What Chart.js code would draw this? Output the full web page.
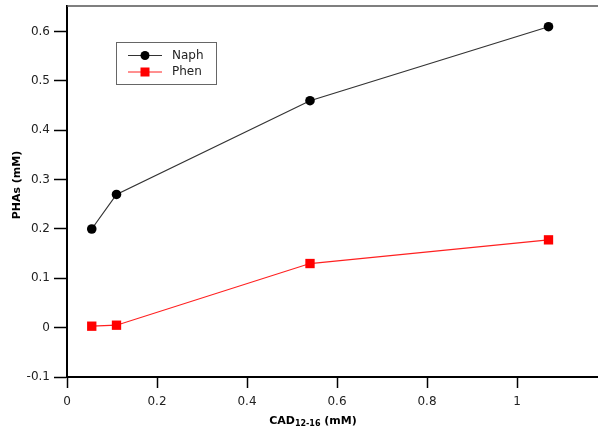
<!DOCTYPE html>
<html>
<head>
<meta charset="utf-8">
<script src="https://cdn.jsdelivr.net/npm/chart.js@4"></script>
<style>
  html, body { margin: 0; padding: 0; background: #fff; }
  #wrap { width: 598px; height: 431px; position: relative; }
</style>
</head>
<body>
<div id="wrap"><canvas id="phaChart"></canvas></div>
<script>
// values
const cadValues = [0.055, 0.11, 0.54, 1.07];
const naphValues = [0.2, 0.27, 0.46, 0.61];
const phenValues = [0.003, 0.005, 0.13, 0.178];

const xTicks = [0, 0.2, 0.4, 0.6, 0.8, 1];
const yTicks = [-0.1, 0, 0.1, 0.2, 0.3, 0.4, 0.5, 0.6];

const seriesNames = ['Naph', 'Phen'];

const toPoints = (xs, ys) => xs.map((x, i) => ({ x: x, y: ys[i] }));

const tickFont = { family: 'DejaVu Sans', size: 12 };
const textColor = '#222';

// top frame line, axis titles and the boxed legend
const extrasPlugin = {
    id: 'extras',
    afterDraw(chart) {
        const ctx = chart.ctx;
        const area = chart.chartArea;
        ctx.save();

        // thin frame on top
        ctx.strokeStyle = '#555';
        ctx.lineWidth = 1.5;
        ctx.beginPath();
        ctx.moveTo(area.left, area.top);
        ctx.lineTo(area.right, area.top);
        ctx.stroke();

        // y title
        ctx.fillStyle = '#000';
        ctx.font = 'bold 11px "DejaVu Sans"';
        ctx.textAlign = 'center';
        ctx.textBaseline = 'middle';
        ctx.translate(17, 185);
        ctx.rotate(-Math.PI / 2);
        ctx.fillText('PHAs (mM)', 0, 0);
        ctx.setTransform(1, 0, 0, 1, 0, 0);

        // x title with subscript
        const big = 'bold 11px "DejaVu Sans"';
        const small = 'bold 8px "DejaVu Sans"';
        ctx.textAlign = 'left';
        ctx.textBaseline = 'alphabetic';
        ctx.font = big;
        const w1 = ctx.measureText('CAD').width;
        const w3 = ctx.measureText(' (mM)').width;
        ctx.font = small;
        const w2 = ctx.measureText('12-16').width;
        let x = 313 - (w1 + w2 + w3) / 2;
        const base = 424;
        ctx.font = big;
        ctx.fillText('CAD', x, base);
        x += w1;
        ctx.font = small;
        ctx.fillText('12-16', x, base + 2);
        x += w2;
        ctx.font = big;
        ctx.fillText(' (mM)', x, base);

        // legend box
        ctx.strokeStyle = '#666';
        ctx.lineWidth = 1;
        ctx.strokeRect(116.5, 42.5, 100, 42);
        const rows = [55.5, 72];
        chart.data.datasets.forEach((ds, i) => {
            const y = rows[i];
            ctx.strokeStyle = ds.borderColor;
            ctx.lineWidth = 1;
            ctx.beginPath();
            ctx.moveTo(128, y);
            ctx.lineTo(162, y);
            ctx.stroke();
            ctx.fillStyle = ds.pointBackgroundColor;
            if (ds.pointStyle === 'rect') {
                ctx.fillRect(140.5, y - 4.5, 9, 9);
            } else {
                ctx.beginPath();
                ctx.arc(145, y, 4.5, 0, Math.PI * 2);
                ctx.fill();
            }
            ctx.fillStyle = textColor;
            ctx.font = '12px "DejaVu Sans"';
            ctx.textBaseline = 'middle';
            ctx.fillText(ds.label, 172, y);
        });
        ctx.restore();
    }
};

new Chart(document.getElementById('phaChart'), {
    type: 'scatter',
    data: {
        datasets: [
            {
                label: seriesNames[0],
                data: toPoints(cadValues, naphValues),
                showLine: true,
                borderColor: '#333',
                borderWidth: 1.2,
                pointStyle: 'circle',
                pointRadius: 4.8,
                pointBackgroundColor: '#000',
                pointBorderColor: '#000',
                pointBorderWidth: 0
            },
            {
                label: seriesNames[1],
                data: toPoints(cadValues, phenValues),
                showLine: true,
                borderColor: '#ff2020',
                borderWidth: 1.2,
                pointStyle: 'rect',
                pointRadius: 6.6,
                pointBackgroundColor: '#ff0000',
                pointBorderColor: '#ff0000',
                pointBorderWidth: 0
            }
        ]
    },
    plugins: [extrasPlugin],
    options: {
        responsive: true,
        maintainAspectRatio: false,
        animation: false,
        layout: { autoPadding: false, padding: { top: 6, right: 0, left: 0, bottom: 0 } },
        plugins: {
            legend: { display: false },
            tooltip: { enabled: false }
        },
        scales: {
            x: {
                type: 'linear',
                min: 0,
                max: 1.18,
                afterBuildTicks: (scale) => { scale.ticks = xTicks.map(v => ({ value: v })); },
                afterFit: (scale) => {
                    scale.height = 54;
                    scale.paddingLeft = 0;
                    scale.paddingRight = 0;
                },
                border: { color: '#000', width: 2 },
                grid: { drawOnChartArea: false, color: '#000', tickLength: 11, tickWidth: 1.5 },
                ticks: {
                    font: tickFont,
                    color: textColor,
                    padding: 7,
                    maxRotation: 0,
                    callback: (v) => String(Math.round(v * 10) / 10)
                }
            },
            y: {
                type: 'linear',
                min: -0.1,
                max: 0.652,
                afterBuildTicks: (scale) => { scale.ticks = yTicks.map(v => ({ value: v })); },
                afterFit: (scale) => {
                    scale.width = 67;
                    scale.paddingTop = 0;
                    scale.paddingBottom = 0;
                },
                border: { color: '#000', width: 2 },
                grid: { drawOnChartArea: false, color: '#000', tickLength: 13, tickWidth: 1.5 },
                ticks: {
                    font: tickFont,
                    color: textColor,
                    padding: 4,
                    callback: (v) => String(Math.round(v * 10) / 10)
                }
            }
        }
    }
});
</script>
</body>
</html>
